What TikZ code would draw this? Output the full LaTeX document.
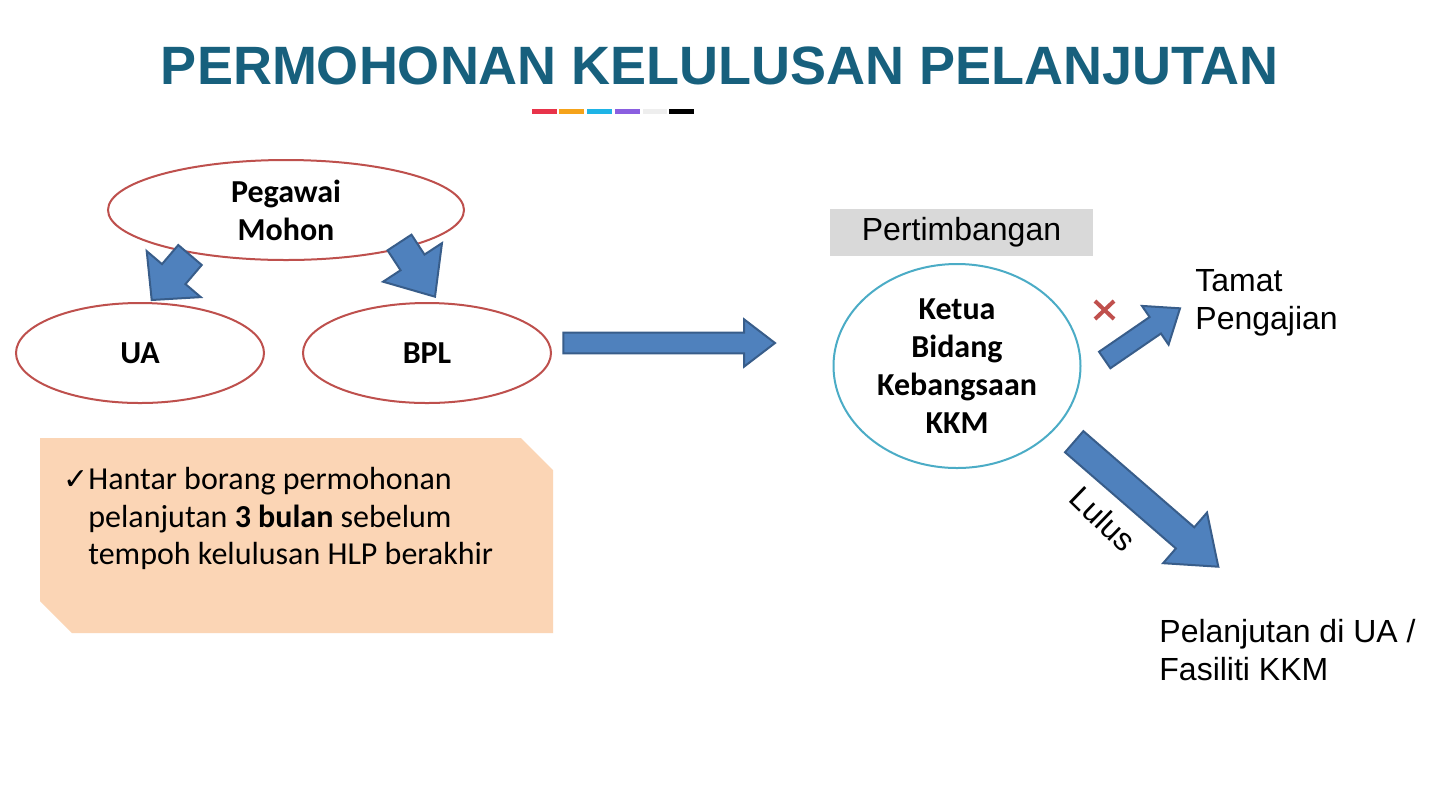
\documentclass[tikz,border=0pt]{standalone}
\usepackage{fontspec}
\setmainfont{Carlito}
\newfontfamily\arial{Liberation Sans}
\newfontfamily\djv{DejaVu Sans}
\usetikzlibrary{calc,shapes.geometric}
\definecolor{titleblue}{RGB}{23,96,125}
\definecolor{ellred}{RGB}{190,80,77}
\definecolor{ellteal}{RGB}{75,172,198}
\definecolor{arrfill}{RGB}{79,129,189}
\definecolor{arrline}{RGB}{56,93,138}
\definecolor{boxgray}{RGB}{217,217,217}
\definecolor{peach}{RGB}{251,213,181}
\definecolor{crossred}{RGB}{192,80,77}
\definecolor{barA}{RGB}{232,51,74}
\definecolor{barB}{RGB}{245,163,26}
\definecolor{barC}{RGB}{30,180,230}
\definecolor{barD}{RGB}{138,95,224}
\definecolor{barE}{RGB}{238,238,238}
\newcommand{\blockarr}[5]{%
  \path ($(#2)!#5!(#1)$) coordinate (nk);
  \draw[barrow] ($(#1)!#3!90:(#2)$) -- ($(nk)!#3!90:(#2)$) -- ($(nk)!#4!90:(#2)$) -- (#2)
     -- ($(nk)!#4!-90:(#2)$) -- ($(nk)!#3!-90:(#2)$) -- ($(#1)!#3!-90:(#2)$) -- cycle;
}
\begin{document}
\begin{tikzpicture}[x=0.5pt,y=-0.5pt,
  barrow/.style={fill=arrfill,draw=arrline,line width=1pt,line join=miter},
  redell/.style={ellipse,draw=ellred,line width=1pt,inner sep=0pt,align=center,
     font=\fontsize{16}{19}\selectfont\bfseries},
  arialtxt/.style={font=\arial\fontsize{16}{19}\selectfont,inner sep=0pt,align=left},
  crossmark/.style={draw=crossred,line width=2pt}]
\useasboundingbox (0,0) rectangle (1440,810);
\fill[white] (0,0) rectangle (1440,810);
% title
\node[font=\arial\bfseries\fontsize{27}{32}\selectfont,text=titleblue,inner sep=0pt] (title) at (720,66) {PERMOHONAN KELULUSAN PELANJUTAN};
% colour bar
\fill[barA] (532,109) rectangle (556.7,113.5);
\fill[barB] (559.3,109) rectangle (584,113.5);
\fill[barC] (587,109) rectangle (612,113.5);
\fill[barD] (615,109) rectangle (640,113.5);
\fill[barE] (642.7,109) rectangle (666.7,113.5);
\fill[black] (669,109) rectangle (694,113.5);
% ellipses
\node[redell,minimum width=178pt,minimum height=50pt] (peg) at (286,210) {Pegawai\\Mohon};
\node[redell,minimum width=124pt,minimum height=50pt] (ua) at (140,353) {UA};
\node[redell,minimum width=124pt,minimum height=50pt] (bpl) at (427,353) {BPL};
\node[ellipse,draw=ellteal,line width=1pt,inner sep=0pt,align=center,
  font=\fontsize{16}{19}\selectfont\bfseries,minimum width=123.5pt,minimum height=102pt] (ketua) at (957,366) {Ketua\\Bidang\\Kebangsaan\\KKM};
% pertimbangan box
\node[fill=boxgray,minimum width=131.5pt,minimum height=23.5pt,inner sep=0pt,font=\arial\fontsize{16}{19}\selectfont] (pert) at (961.5,232) {Pertimbangan};
% outcome texts
\node[arialtxt,anchor=west] (tamat) at (1195,303) {Tamat\\Pengajian};
\node[arialtxt,anchor=west] (lanjut) at (1159,650) {Pelanjutan di UA /\\Fasiliti KKM};
% arrow end points
\coordinate (a1t) at (190,255); \coordinate (a1h) at (151.7,300);
\coordinate (a2t) at (399.5,242.5); \coordinate (a2h) at (435,296.7);
\coordinate (a3t) at (563.3,343); \coordinate (a3h) at (775,343);
\coordinate (a4t) at (1104.7,360); \coordinate (a4h) at (1180,308.3);
\coordinate (a5t) at (1074.2,441.7); \coordinate (a5h) at (1218.3,566.7);
\blockarr{a1t}{a1h}{7.7pt}{17.75pt}{17pt}
\blockarr{a2t}{a2h}{7.15pt}{17.6pt}{20.5pt}
\blockarr{a3t}{a3h}{5.15pt}{11.85pt}{15.5pt}
\blockarr{a4t}{a4h}{5pt}{11.75pt}{15pt}
\blockarr{a5t}{a5h}{7pt}{16.75pt}{22pt}
% cross
\draw[crossmark] (1095,301) -- (1114,319) (1095,319) -- (1114,301);
% Lulus
\node[font=\arial\fontsize{16}{19}\selectfont,rotate=-44,inner sep=0pt] (lulus) at (1103,519) {Lulus};
% callout
\fill[peach] (40,438) -- (521,438) -- (553,470) -- (553,633) -- (72,633) -- (40,601) -- cycle;
\node[anchor=north west,align=left,inner sep=0pt,font=\fontsize{16}{18.75}\selectfont] (note) at (88,467)
 {\llap{{\djv\fontsize{15}{15}\selectfont ✓}}Hantar borang permohonan\\pelanjutan \textbf{3 bulan} sebelum\\tempoh kelulusan HLP berakhir};
\end{tikzpicture}
\end{document}
